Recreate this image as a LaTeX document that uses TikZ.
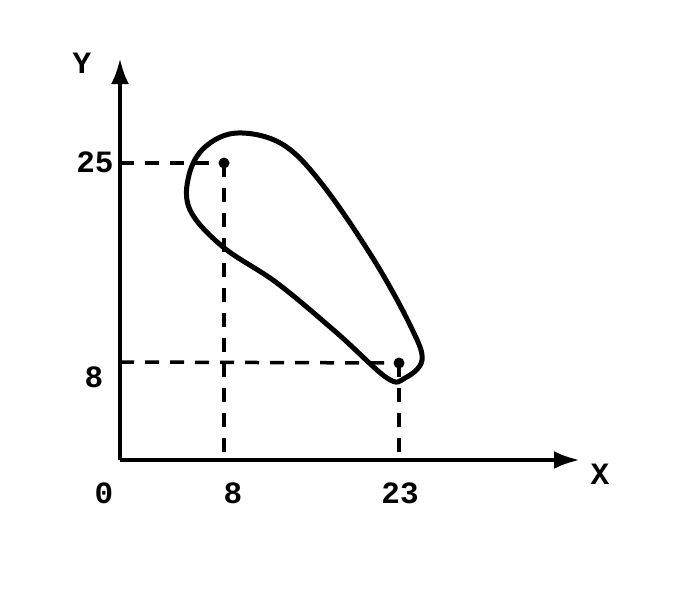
\documentclass[tikz,border=0pt]{standalone}
\usepackage{fontspec}
\setmainfont{Liberation Mono}
\usetikzlibrary{arrows.meta}
\begin{document}
\begin{tikzpicture}[x=1pt,y=-1pt,
  axis/.style={line width=4.5pt, -{Latex[length=26pt,width=18pt]}},
  guide/.style={line width=3.5pt, dash pattern=on 14pt off 11pt},
  lbl/.style={font=\fontsize{31}{35}\selectfont\bfseries, inner sep=0pt},
  blob/.style={line width=5pt},
  pt/.style={circle, fill=black, inner sep=0pt, minimum size=11pt}]
\useasboundingbox (0,0) rectangle (700,600);
\coordinate (O) at (120,460);
\coordinate (Ytip) at (120,58);
\coordinate (Xtip) at (580,460);
\draw[axis] (O) -- (Ytip);
\draw[axis] (O) -- (Xtip);
\node[pt] (A) at (224,163) {};
\node[pt] (B) at (399,363) {};
\coordinate (A0) at (120,163);
\coordinate (Ax) at (224,460);
\coordinate (B0) at (120,362);
\coordinate (Bx) at (399,460);
\draw[guide] (A0) -- (A.center);
\draw[guide] (A.center) -- (Ax);
\draw[guide] (B0) -- (B.center);
\draw[guide] (B.center) -- (Bx);
\draw[blob] plot[smooth cycle, tension=0.6] coordinates {
  (237,133) (282,144) (322,184) (374,260) (411,327) (422,360) (405,378) (387,378)
  (337,333) (277,283) (223,247) (190,210) (189,175) (205,147)};
\node[lbl] (ly) at (82,63) {Y};
\node[lbl] (lx) at (600,474) {X};
\node[lbl] (l0) at (104,493) {0};
\node[lbl] (l8x) at (233,493) {8};
\node[lbl] (l23) at (400,493) {23};
\node[lbl] (l25) at (95,162) {25};
\node[lbl] (l8y) at (94,377) {8};
\end{tikzpicture}
\end{document}
